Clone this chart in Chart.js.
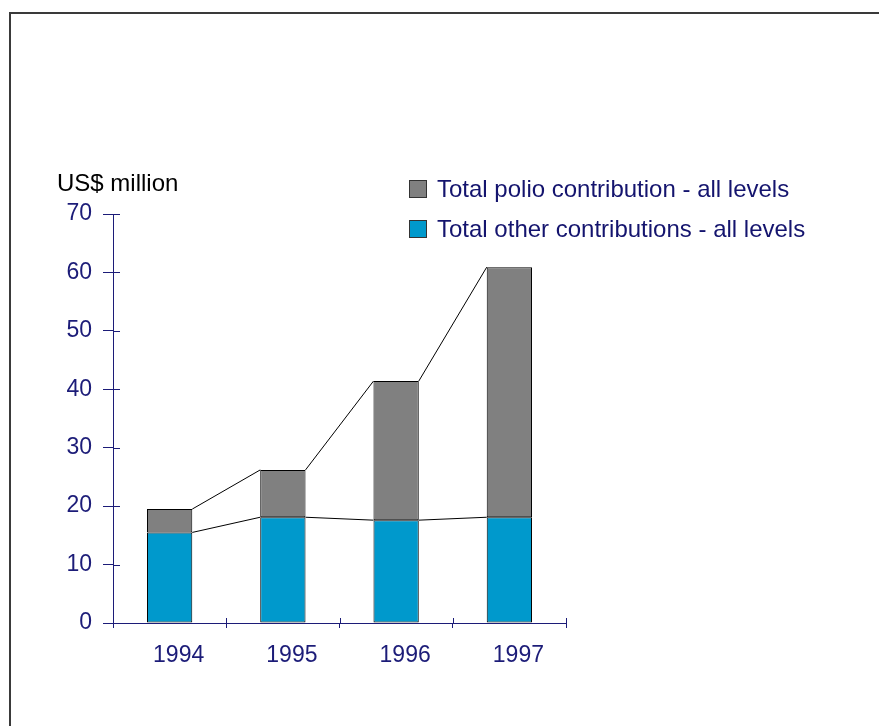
<!DOCTYPE html>
<html>
<head>
<meta charset="utf-8">
<script src="https://cdn.jsdelivr.net/npm/chart.js@4/dist/chart.umd.min.js"></script>
<style>
  body { margin: 0; overflow: hidden; background: #fff; font-family: "Liberation Sans", Arial, sans-serif; }
  #wrap { position: relative; width: 879px; height: 726px; }
  #frame { position: absolute; left: 9px; top: 12px; width: 950px; height: 800px; border: 2px solid #3a3a3a; }
  #myChart { position: absolute; left: 0; top: 0; }
  .unit { position: absolute; left: 57px; top: 171px; font-size: 24px; line-height: 24px; color: #000; white-space: nowrap; }
  .leg { position: absolute; left: 409px; font-size: 24px; line-height: 24px; color: #14146e; white-space: nowrap; }
  .leg span { display: inline-block; width: 16px; height: 16px; border: 1px solid #333; margin-right: 10px; vertical-align: -1px; }
</style>
</head>
<body>
<div id="wrap">
  <div id="frame"></div>
  <canvas id="myChart" width="879" height="726"></canvas>
  <div class="unit">US$ million</div>
  <div class="leg" style="top:177px"><span style="background:#808080"></span>Total polio contribution - all levels</div>
  <div class="leg" style="top:217px"><span style="background:#0099cc"></span>Total other contributions - all levels</div>
</div>
<script>
// values (US$ million)
var years = ['1994', '1995', '1996', '1997'];
var otherValues = [15.5, 18.1, 17.6, 18.1];
var polioValues = [4.0, 8.1, 23.8, 42.8];
var yTicks = [0, 10, 20, 30, 40, 50, 60, 70];

var navy = '#1c1c78';

// lines joining the stack tops, plus the short inner tick marks
var extras = {
    id: 'extras',
    afterDatasetsDraw: function(chart) {
        var ctx = chart.ctx;
        ctx.save();
        ctx.strokeStyle = '#000';
        ctx.lineWidth = 1;
        chart.data.datasets.forEach(function(ds, d) {
            var bars = chart.getDatasetMeta(d).data;
            for (var i = 0; i < bars.length - 1; i++) {
                var a = bars[i], b = bars[i + 1];
                ctx.beginPath();
                ctx.moveTo(a.x + a.width / 2, a.y);
                ctx.lineTo(b.x - b.width / 2, b.y);
                ctx.stroke();
            }
        });
        var xs = chart.scales.x, ys = chart.scales.y;
        ctx.strokeStyle = navy;
        yTicks.forEach(function(v) {
            var y = Math.round(ys.getPixelForValue(v)) + 0.5;
            ctx.beginPath();
            ctx.moveTo(ys.right, y);
            ctx.lineTo(ys.right + 7, y);
            ctx.stroke();
        });
        for (var i = 0; i <= years.length; i++) {
            var x = Math.round(xs.left + i * xs.width / years.length) + 0.5;
            ctx.beginPath();
            ctx.moveTo(x, xs.top);
            ctx.lineTo(x, xs.top - 5);
            ctx.stroke();
        }
        ctx.restore();
    }
};

var ctx = document.getElementById('myChart').getContext('2d');
var myChart = new Chart(ctx, {
    type: 'bar',
    data: {
        labels: years,
        datasets: [{
            label: 'Total other contributions - all levels',
            data: otherValues,
            backgroundColor: '#0099cc',
            borderColor: '#000',
            borderWidth: 1,
            borderSkipped: false,
            barPercentage: 0.4,
            categoryPercentage: 1
        }, {
            label: 'Total polio contribution - all levels',
            data: polioValues,
            backgroundColor: '#808080',
            borderColor: '#000',
            borderWidth: 1,
            borderSkipped: false,
            barPercentage: 0.4,
            categoryPercentage: 1
        }]
    },
    options: {
        responsive: false,
        animation: false,
        layout: { padding: { left: 0, top: 214, right: 313, bottom: 0 } },
        plugins: { legend: { display: false }, tooltip: { enabled: false } },
        scales: {
            x: {
                stacked: true,
                afterFit: function(s) { s.height = 103; },
                grid: { offset: true, drawOnChartArea: false, tickLength: 5, color: navy },
                border: { color: navy },
                ticks: { color: navy, font: { family: 'Liberation Sans', size: 23 }, padding: 14, labelOffset: 9 }
            },
            y: {
                stacked: true,
                min: 0,
                max: 70,
                afterFit: function(s) { s.width = 113; },
                afterBuildTicks: function(s) { s.ticks = yTicks.map(function(v) { return { value: v }; }); },
                grid: { drawOnChartArea: false, tickLength: 10, color: navy },
                border: { color: navy },
                ticks: { color: navy, font: { family: 'Liberation Sans', size: 23 }, padding: 11 }
            }
        }
    },
    plugins: [extras]
});
</script>
</body>
</html>
